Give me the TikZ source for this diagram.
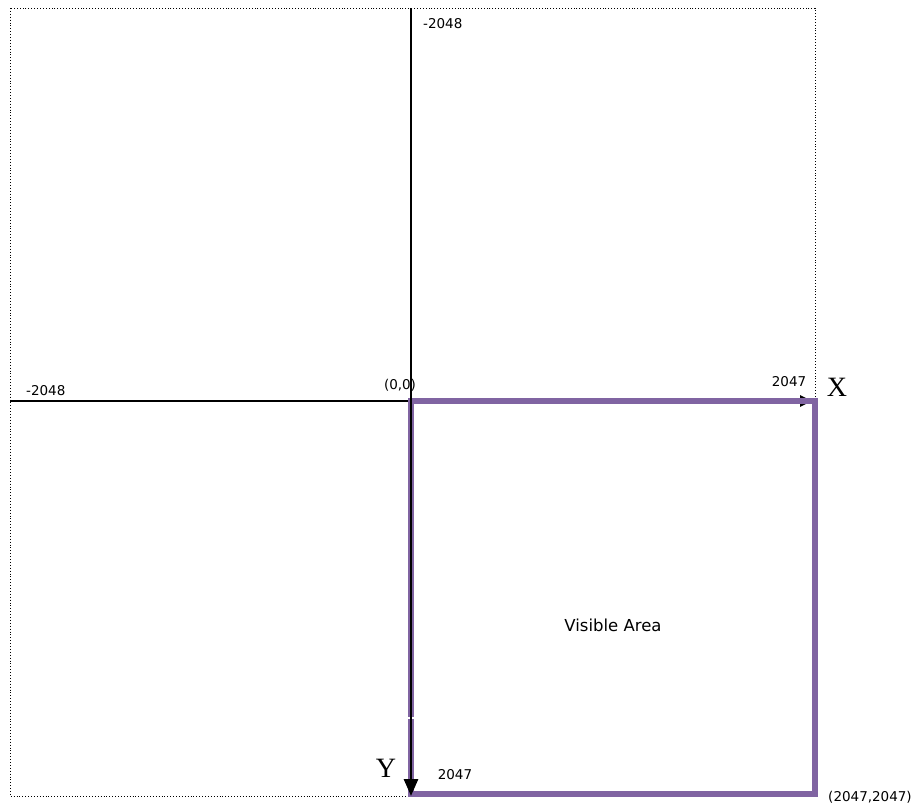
\documentclass[tikz,border=0pt]{standalone}
\usepackage{fontspec}
\setmainfont{DejaVu Sans}
\newfontfamily\serifxy{Liberation Serif}
\usetikzlibrary{arrows.meta}
\definecolor{vispurple}{HTML}{8064A2}
\begin{document}
\begin{tikzpicture}[x=1pt,y=-1pt,
  lbl/.style={font=\fontsize{13.5}{15}\selectfont, inner sep=0pt},
  axlbl/.style={font=\serifxy\fontsize{28}{30}\selectfont, inner sep=0pt},
  axis/.style={black, line width=2.8pt},
  axarrow/.style={axis, -{Triangle[length=17pt,width=14pt]}},
  frame/.style={black, line width=0.9pt, dotted},
  vis/.style={vispurple, line width=6pt}]
\useasboundingbox (0,0) rectangle (916,804);
% dotted outer frame
\coordinate (tl) at (10,8);
\coordinate (br) at (815,796);
\draw[frame] (tl) rectangle (br);
% axis end points
\coordinate (xl) at (10,401);
\coordinate (xr) at (812,401);
\coordinate (yt) at (411,8);
\coordinate (yb) at (411,796);
\draw[axis, -{Triangle[length=12pt,width=11pt]}] (xl) -- (xr);
% visible area
\coordinate (va1) at (411,401);
\coordinate (va2) at (815,794);
\draw[vis] (va1) rectangle (va2);
\draw[white, line width=1.2pt] (407,718) -- (415,718);
\draw[axarrow] (yt) -- (yb);
% labels
\node[lbl, anchor=west] (ltop) at (423,24) {-2048};
\node[lbl, anchor=west] (lleft) at (26,391) {-2048};
\node[lbl] (lorigin) at (400,385) {(0,0)};
\node[lbl] (lx2047) at (789,382) {2047};
\node[axlbl] (lX) at (837,387) {X};
\node[lbl, font=\fontsize{16.5}{18}\selectfont] (lva) at (613,625) {Visible Area};
\node[axlbl] (lY) at (386,768) {Y};
\node[lbl] (ly2047) at (455,775) {2047};
\node[lbl] (lcorner) at (870,797) {(2047,2047)};
\end{tikzpicture}
\end{document}
